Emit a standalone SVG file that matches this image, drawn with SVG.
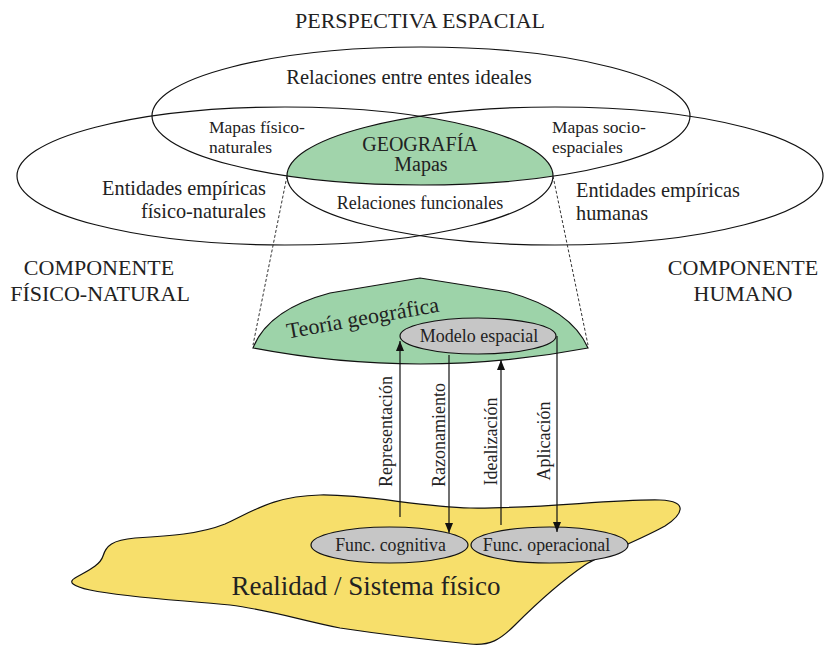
<svg xmlns="http://www.w3.org/2000/svg" width="824" height="645" viewBox="0 0 824 645">
<defs>
<style>
text{font-family:"Liberation Serif","Times New Roman",serif;fill:#222}
.e{fill:none;stroke:#111;stroke-width:1.2}
.c{text-anchor:middle}
.r{text-anchor:end}
.ln{stroke:#111;stroke-width:1.2;fill:none}
.dash{stroke:#333;stroke-width:1;stroke-dasharray:3 2;fill:none}
.gray{fill:#c6c6c6;stroke:#111;stroke-width:1.2}
</style>
<marker id="ah" viewBox="0 0 10 8" refX="10" refY="4" markerWidth="10" markerHeight="8" markerUnits="userSpaceOnUse" orient="auto">
<path d="M0,0 L10,4 L0,8 z" fill="#111"/>
</marker>
</defs>
<rect width="824" height="645" fill="#fff"/>

<g id="perspectiva">
<text class="c" x="420" y="28" font-size="22">PERSPECTIVA ESPACIAL</text>
</g>

<g id="venn">
<path id="geografia" d="M287,176 A268,69 0 0 1 420,116.4 A268,69 0 0 1 553,176 A269,69 0 0 1 287,176 Z" fill="#a1d4ab"/>
<ellipse class="e" cx="421" cy="116" rx="269" ry="69"/>
<ellipse class="e" cx="285" cy="176" rx="268" ry="69"/>
<ellipse class="e" cx="555" cy="176" rx="268" ry="69"/>
</g>

<g id="ideales">
<text class="c" x="409" y="84" font-size="20.5">Relaciones entre entes ideales</text>
</g>
<g id="mapas-fisico">
<text x="209" y="133" font-size="17.5">Mapas físico-</text>
<text x="209" y="153" font-size="17.5">naturales</text>
</g>
<g id="mapas-socio">
<text x="552" y="133" font-size="17.5">Mapas socio-</text>
<text x="552" y="153" font-size="17.5">espaciales</text>
</g>
<g id="geografia-label">
<text class="c" x="420" y="151" font-size="20">GEOGRAFÍA</text>
<text class="c" x="421" y="171" font-size="20">Mapas</text>
</g>
<g id="entidades-fisico">
<text class="r" x="266" y="195" font-size="20.3">Entidades empíricas</text>
<text class="r" x="266" y="218" font-size="20.3">físico-naturales</text>
</g>
<g id="entidades-humanas">
<text x="576" y="197" font-size="20.3">Entidades empíricas</text>
<text x="576" y="220" font-size="20.3">humanas</text>
</g>
<g id="funcionales">
<text class="c" x="420" y="209" font-size="18">Relaciones funcionales</text>
</g>

<g id="comp-fisico">
<text class="c" x="99" y="275" font-size="22">COMPONENTE</text>
<text class="c" x="100" y="301" font-size="22">FÍSICO-NATURAL</text>
</g>
<g id="comp-humano">
<text class="c" x="743" y="275" font-size="22">COMPONENTE</text>
<text class="c" x="743" y="301" font-size="22">HUMANO</text>
</g>

<g id="teoria">
<path d="M253,348 C262,325 285,305 330,293 L420,278 L508,292 C555,305 578,325 588,348 Q420,380 253,348 Z" fill="#9dd3a9" stroke="#111" stroke-width="1.2"/>
<text class="c" font-size="22" transform="translate(364,325) rotate(-10.1)">Teoría geográfica</text>
</g>
<g id="modelo">
<ellipse class="gray" cx="478" cy="336" rx="78" ry="18"/>
<text class="c" x="479" y="342" font-size="18">Modelo espacial</text>
</g>

<g id="realidad">
<path d="M75,578 C85,572 100,566 103,556 C106,546 112,540 135,538 C170,536 200,534 225,524 C255,510 275,496 320,495 C365,494 420,507 470,508 C540,509 610,499 660,500 C690,501 682,515 665,526 C640,540 600,555 585,565 C560,582 535,605 515,625 C500,640 490,646 470,644 C430,640 380,634 340,628 C300,620 270,610 230,605 C180,600 130,598 90,590 C72,586 68,582 75,578 Z" fill="#f7df6b" stroke="#111" stroke-width="1.2"/>
<text class="c" x="366" y="595" font-size="27">Realidad / Sistema físico</text>
</g>
<g id="func-cognitiva">
<ellipse class="gray" cx="389.5" cy="545" rx="78.5" ry="18"/>
<text class="c" x="390.5" y="551" font-size="17.8">Func. cognitiva</text>
</g>
<g id="func-operacional">
<ellipse class="gray" cx="549.5" cy="545" rx="78.5" ry="18"/>
<text class="c" x="546.5" y="551" font-size="17.8">Func. operacional</text>
</g>

<g id="connectors">
<path class="dash" d="M287,176 L253,345"/>
<path class="dash" d="M553,176 L588,345"/>
<path class="ln" d="M400,517 L400,341" marker-end="url(#ah)"/>
<path class="ln" d="M449,355 L449,533" marker-end="url(#ah)"/>
<path class="ln" d="M501,525 L501,360" marker-end="url(#ah)"/>
<path class="ln" d="M557,336 L557,532" marker-end="url(#ah)"/>
<text class="c" font-size="18" transform="translate(392,431.5) rotate(-90)">Representación</text>
<text class="c" font-size="18" transform="translate(445,435) rotate(-90)">Razonamiento</text>
<text class="c" font-size="18" transform="translate(497,441.5) rotate(-90)">Idealización</text>
<text class="c" font-size="18" transform="translate(550,441) rotate(-90)">Aplicación</text>
</g>
</svg>
